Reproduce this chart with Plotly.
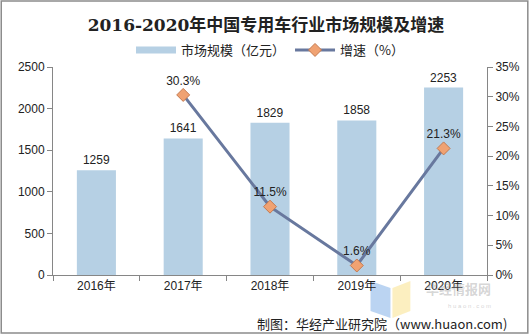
import plotly.graph_objects as go

years = ["2016年", "2017年", "2018年", "2019年", "2020年"]
market_size = [1259, 1641, 1829, 1858, 2253]          # 亿元
growth_years = ["2017年", "2018年", "2019年", "2020年"]
growth_rate = [30.3, 11.5, 1.6, 21.3]                  # %

W, H = 532, 335
ML, MR, MT, MB = 53, 43, 67, 60
PW, PH = W - ML - MR, H - MT - MB

def px_x(x):
    return (x - ML) / PW

def px_y(y):
    return (H - MB - y) / PH

FONT = "Liberation Sans, Arial, Noto Sans CJK SC, sans-serif"
CJK = "Noto Sans CJK SC, sans-serif"
AXIS_COLOR = "#868686"
BAR_COLOR = "#B6D0E4"

fig = go.Figure()
fig.add_trace(go.Bar(
    x=years, y=market_size, name="市场规模（亿元）", showlegend=False,
    marker=dict(color=BAR_COLOR, line=dict(width=0)),
    text=[str(v) for v in market_size], textposition="outside",
    textfont=dict(size=12, color="#222222", family=FONT),
    cliponaxis=False,
))
# legend entry for the bars drawn as a wide flat swatch
fig.add_trace(go.Scatter(
    x=[None], y=[None], name="市场规模（亿元）", mode="lines",
    line=dict(color=BAR_COLOR, width=7),
))
fig.add_trace(go.Scatter(
    x=growth_years, y=growth_rate, name="增速（%）", yaxis="y2",
    mode="lines+markers+text",
    line=dict(color="#68789E", width=3),
    marker=dict(symbol="diamond", size=10, color="#F0A272",
                line=dict(color="#C47A50", width=1)),
    text=[f"{v}%" for v in growth_rate], textposition="top center",
    textfont=dict(size=12, color="#222222", family=FONT),
    cliponaxis=False,
))

fig.update_layout(
    width=W, height=H,
    margin=dict(l=ML, r=MR, t=MT, b=MB),
    paper_bgcolor="white", plot_bgcolor="white",
    bargap=0.55,
    showlegend=True,
    legend=dict(orientation="h", x=0.5, xanchor="center", y=px_y(50), yanchor="middle",
                font=dict(size=13, family=CJK, color="#222222"),
                itemwidth=40, traceorder="normal", bgcolor="rgba(0,0,0,0)"),
    title=dict(text="<b>2016-2020年中国专用车行业市场规模及增速</b>",
               x=0.5, xanchor="center", y=1 - 25 / H, yanchor="middle",
               font=dict(size=17, family="DejaVu Serif, Noto Sans CJK SC, serif", color="#222222")),
    xaxis=dict(showline=True, linecolor=AXIS_COLOR, ticks="outside", tickcolor=AXIS_COLOR,
               ticklen=5, tickson="boundaries", showgrid=False,
               tickfont=dict(size=12, family=FONT, color="#222222")),
    yaxis=dict(range=[0, 2500], dtick=500, showline=True, linecolor=AXIS_COLOR,
               ticks="outside", tickcolor=AXIS_COLOR, ticklen=5, showgrid=False,
               zeroline=False, tickfont=dict(size=12, family=FONT, color="#222222")),
    yaxis2=dict(range=[0, 35], dtick=5, overlaying="y", side="right", ticksuffix="%",
                showline=True, linecolor=AXIS_COLOR, ticks="outside", tickcolor=AXIS_COLOR,
                ticklen=5, showgrid=False, zeroline=False,
                tickfont=dict(size=12, family=FONT, color="#222222")),
)

# outer frame
fig.add_shape(type="rect", xref="paper", yref="paper",
              x0=px_x(1), x1=px_x(W - 2), y0=px_y(H - 2), y1=px_y(1),
              line=dict(color="#8C8C8C", width=1.5), fillcolor="rgba(0,0,0,0)", layer="below")

# watermark logo
fig.add_shape(type="path", xref="paper", yref="paper",
              path=f"M {px_x(372)} {px_y(281)} L {px_x(392)} {px_y(288)} L {px_x(392)} {px_y(318)} L {px_x(372)} {px_y(311)} Z",
              fillcolor="rgba(120,170,230,0.5)", line=dict(width=0), layer="below")
fig.add_shape(type="path", xref="paper", yref="paper",
              path=f"M {px_x(394)} {px_y(288)} L {px_x(412)} {px_y(281)} L {px_x(412)} {px_y(311)} L {px_x(394)} {px_y(318)} Z",
              fillcolor="rgba(250,225,140,0.55)", line=dict(width=0), layer="below")
fig.add_annotation(text="<b>华经情报网</b>", xref="paper", yref="paper",
                   x=px_x(494), y=px_y(299), showarrow=False, borderpad=0,
                   font=dict(size=13, family=CJK, color="rgba(150,150,150,0.4)"))
fig.add_annotation(text="h u a o n . c o m", xref="paper", yref="paper",
                   x=px_x(494), y=px_y(310), showarrow=False, borderpad=0,
                   font=dict(size=6, family=FONT, color="rgba(170,170,170,0.5)"))

# source note
fig.add_annotation(text="制图：华经产业研究院（www.huaon.com)", xref="paper", yref="paper",
                   x=px_x(510), y=px_y(323), xanchor="right", yanchor="middle", showarrow=False,
                   borderpad=0, font=dict(size=13, family=CJK, color="#222222"))

fig.write_html("out.html")
